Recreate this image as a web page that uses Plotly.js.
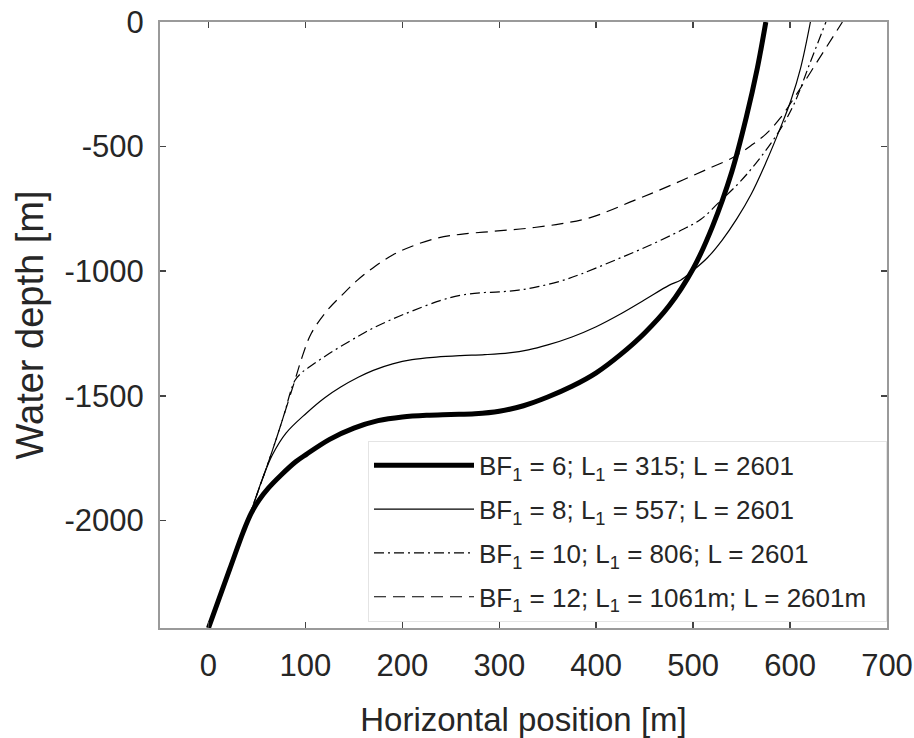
<!DOCTYPE html>
<html>
<head>
<meta charset="utf-8">
<script src="https://cdn.plot.ly/plotly-3.0.1.min.js"></script>
<style>html,body{margin:0;padding:0;background:#fff;}#chart{width:914px;height:738px;}</style>
</head>
<body>
<div id="chart"></div>
<script>
// Series: BF1 = 6 (thick solid)
const x_bf6 = [0, 22, 36, 44, 52, 62, 75, 90, 101, 125, 150, 175, 200, 225, 250, 275, 300, 325, 350, 375, 400, 425, 450, 475, 500, 520, 540, 555, 566, 575];
const y_bf6 = [-2432, -2195, -2045, -1972, -1920, -1870, -1818, -1765, -1735, -1675, -1630, -1600, -1585, -1578, -1575, -1572, -1562, -1540, -1505, -1462, -1408, -1335, -1248, -1140, -990, -820, -600, -380, -190, 0];
// Series: BF1 = 8 (thin solid)
const x_bf8 = [0, 22, 44, 56, 66, 80, 101, 120, 136, 155, 170, 190, 210, 235, 260, 285, 310, 330, 350, 375, 400, 425, 450, 475, 487, 500, 515, 530, 545, 560, 575, 590, 601, 611, 621];
const y_bf8 = [-2432, -2198, -1962, -1830, -1737, -1650, -1570, -1508, -1466, -1425, -1398, -1372, -1355, -1345, -1339, -1335, -1328, -1316, -1296, -1264, -1223, -1172, -1115, -1057, -1036, -997, -945, -875, -790, -690, -565, -425, -313, -183, 0];
// Series: BF1 = 10 (dash-dot)
const x_bf10 = [0, 22, 44, 66, 77, 89, 96, 104, 120, 136, 155, 170, 190, 210, 239, 260, 280, 300, 320, 340, 363, 384, 418, 453, 488, 508, 525, 545, 560, 575, 590, 604, 621, 637];
const y_bf10 = [-2432, -2198, -1962, -1719, -1588, -1440, -1408, -1385, -1342, -1303, -1260, -1228, -1192, -1160, -1118, -1097, -1087, -1083, -1076, -1062, -1040, -1012, -958, -900, -835, -792, -730, -655, -590, -515, -430, -330, -160, 0];
// Series: BF1 = 12 (dashed)
const x_bf12 = [0, 22, 44, 66, 77, 89, 97, 106, 122, 138, 154, 172, 190, 210, 235, 260, 294, 329, 363, 394, 438, 465, 490, 515, 542, 560, 575, 590, 605, 629, 654];
const y_bf12 = [-2432, -2198, -1962, -1719, -1588, -1440, -1340, -1250, -1160, -1095, -1035, -980, -935, -900, -868, -852, -840, -828, -810, -785, -718, -675, -633, -590, -542, -495, -450, -385, -300, -153, 0];

const seriesNames = [
  'BF<sub>1</sub> = 6; L<sub>1</sub> = 315; L = 2601',
  'BF<sub>1</sub> = 8; L<sub>1</sub> = 557; L = 2601',
  'BF<sub>1</sub> = 10; L<sub>1</sub> = 806; L = 2601',
  'BF<sub>1</sub> = 12; L<sub>1</sub> = 1061m; L = 2601m\u00a0\u00a0'
];
const xTicks = [0, 100, 200, 300, 400, 500, 600, 700];
const yTicks = [0, -500, -1000, -1500, -2000];

const xs = [x_bf6, x_bf8, x_bf10, x_bf12];
const ys = [y_bf6, y_bf8, y_bf10, y_bf12];
const styles = [
  {width: 5, dash: 'solid'},
  {width: 1.2, dash: 'solid'},
  {width: 1.2, dash: '10px,4px,2px,4px'},
  {width: 1.2, dash: '12px,7px'}
];

const traces = xs.map((x, i) => ({
  type: 'scatter', mode: 'lines', x: x, y: ys[i], name: seriesNames[i],
  legendgroup: 'g' + i,
  line: {color: '#000', width: styles[i].width, dash: styles[i].dash, shape: 'spline', smoothing: 1}
}));

const fontFam = 'Liberation Sans, Arial, sans-serif';
const axisCommon = {
  showgrid: false, zeroline: false, showline: true, linecolor: '#9a9a9a', linewidth: 2,
  mirror: 'ticks', ticks: 'inside', ticklen: 6, tickwidth: 1.5, tickcolor: '#444',
  tickfont: {family: fontFam, size: 31, color: '#262626'}
};

const layout = {
  width: 914, height: 738,
  margin: {l: 160, r: 27, t: 22, b: 110},
  paper_bgcolor: '#fff', plot_bgcolor: '#fff',
  font: {family: fontFam, color: '#262626'},
  showlegend: true,
  legend: {
    x: 1, xanchor: 'right', y: 0.01, yanchor: 'bottom',
    bgcolor: '#fff', bordercolor: '#e4e4e4', borderwidth: 1,
    font: {family: fontFam, size: 26, color: '#262626'},
    traceorder: 'grouped', tracegroupgap: 7, itemwidth: 100
  },
  xaxis: Object.assign({}, axisCommon, {
    range: [-50, 700], tickmode: 'array', tickvals: xTicks, ticktext: xTicks.map(String),
    ticklabelstandoff: 9,
    title: {text: 'Horizontal position [m]', font: {family: fontFam, size: 33, color: '#262626'}, standoff: 26}
  }),
  yaxis: Object.assign({}, axisCommon, {
    range: [-2432, 0], tickmode: 'array', tickvals: yTicks, ticktext: yTicks.map(String),
    ticklabelstandoff: 8,
    title: {text: 'Water depth [m]', font: {family: fontFam, size: 38, color: '#262626'}, standoff: 9}
  })
};

Plotly.newPlot('chart', traces, layout, {displayModeBar: false, staticPlot: true});
</script>
</body>
</html>
